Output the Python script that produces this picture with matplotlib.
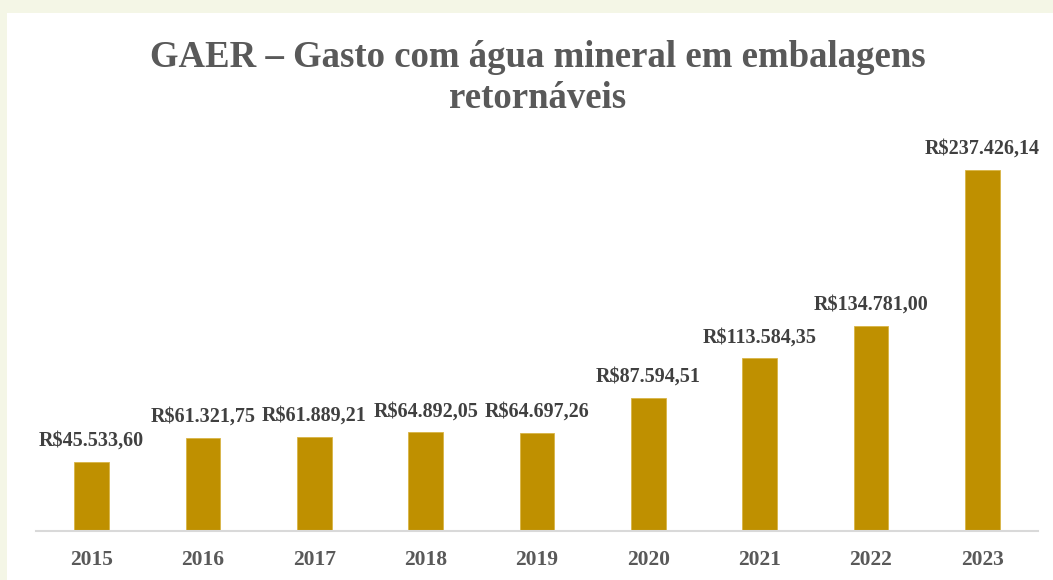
import matplotlib
matplotlib.use('Agg')
import matplotlib.pyplot as plt
from matplotlib.patches import Rectangle

# data
anos = ['2015', '2016', '2017', '2018', '2019', '2020', '2021', '2022', '2023']
gastos = [45533.60, 61321.75, 61889.21, 64892.05, 64697.26,
          87594.51, 113584.35, 134781.00, 237426.14]
rotulos = ['R$45.533,60', 'R$61.321,75', 'R$61.889,21', 'R$64.892,05', 'R$64.697,26',
           'R$87.594,51', 'R$113.584,35', 'R$134.781,00', 'R$237.426,14']

titulo = 'GAER – Gasto com água mineral em embalagens\nretornáveis'

plt.rcParams['font.family'] = ['Liberation Serif', 'DejaVu Serif']

W, H = 1053, 580
fig = plt.figure(figsize=(W / 100, H / 100), dpi=100)
fig.patch.set_facecolor('#F4F6E6')
# white chart area (the cream frame shows at left and top)
fig.patches.append(Rectangle((7 / W, 0), 1 - 7 / W, 1 - 13 / H,
                             transform=fig.transFigure, facecolor='white',
                             edgecolor='none', zorder=-5))

ax = fig.add_axes([36 / W, 1 - 531 / H, (1038 - 36) / W, (531 - 151) / H])
ax.set_facecolor('none')

x = range(len(anos))
ax.bar(x, gastos, width=0.31, color='#BF9000', edgecolor='#D9B445', linewidth=0.6, zorder=2)

for i, v in enumerate(gastos):
    ax.annotate(rotulos[i], (i, v), xytext=(0, 8), textcoords='offset points',
                ha='center', va='bottom', fontsize=14.5, fontweight='bold',
                color='#404040')

ax.set_xlim(-0.5, len(anos) - 0.5)
ax.set_ylim(0, 250000)
ax.set_xticks(list(x))
ax.set_xticklabels(anos, fontsize=15.5, fontweight='bold', color='#595959')
ax.tick_params(axis='x', length=0, pad=14)
ax.set_yticks([])
for s in ['top', 'right', 'left']:
    ax.spines[s].set_visible(False)
ax.spines['bottom'].set_color('#D9D9D9')
ax.spines['bottom'].set_linewidth(1.5)

fig.text(538 / W, 1 - 78 / H, titulo, ha='center', va='center', fontsize=26.5,
         fontweight='bold', color='#595959', linespacing=1.25)

fig.savefig('out.png', dpi=100)
